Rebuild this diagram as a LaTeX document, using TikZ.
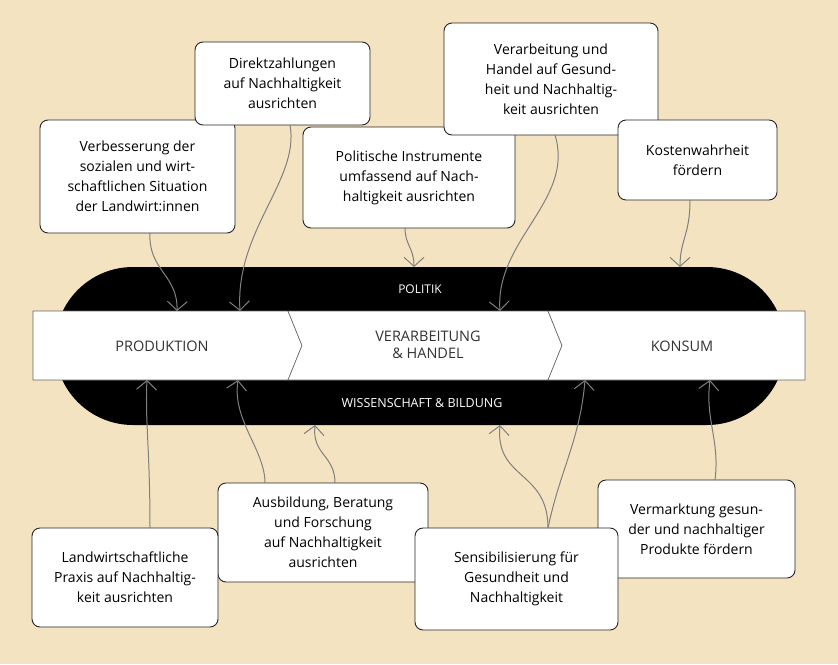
\documentclass[tikz,border=0pt]{standalone}
\usepackage{fontspec}
\setmainfont{Open Sans}
\usetikzlibrary{arrows.meta}
\definecolor{bg}{HTML}{F3E3C0}
\begin{document}
\begin{tikzpicture}[x=1pt,y=-1pt,
  box/.style={draw=black!85,fill=white,rounded corners=8pt,line width=0.9pt,align=center,font=\fontsize{14}{20}\selectfont,inner sep=0pt},
  conn/.style={draw=black!50,line width=1pt,-{Straight Barb[length=9pt,width=20pt]}},
  lbl/.style={font=\fontsize{14.5}{17}\selectfont}]
\fill[bg] (0,0) rectangle (838,664);
\useasboundingbox (0,0) rectangle (838,664);
\fill[black,rounded corners=78pt] (55,267) rectangle (785,425);
\fill[white,draw=black!60,line width=0.6pt] (33,311) -- (288,311) -- (302,345.5) -- (288,380) -- (33,380) -- cycle;
\fill[white,draw=black!60,line width=0.6pt] (288,311) -- (548,311) -- (562,345.5) -- (548,380) -- (288,380) -- (302,345.5) -- cycle;
\fill[white,draw=black!60,line width=0.6pt] (548,311) -- (805,311) -- (805,380) -- (548,380) -- (562,345.5) -- cycle;
\node[text=white,font=\fontsize{12}{14}\selectfont] (pol) at (420,289) {POLITIK};
\node[text=white,font=\fontsize{12.5}{14}\selectfont] (wis) at (422,403) {WISSENSCHAFT \& BILDUNG};
\node[lbl,text=black!80] (prod) at (162,346) {PRODUKTION};
\node[lbl,text=black!80,align=center] (verh) at (428,345) {VERARBEITUNG\\\& HANDEL};
\node[lbl,text=black!80] (kons) at (682,346) {KONSUM};
% boxes
\node[box,minimum width=195pt,minimum height=113pt] (b1) at (137.5,176.5) {Verbesserung der\\sozialen und wirt-\\schaftlichen Situation\\der Landwirt:innen};
\node[box,minimum width=175pt,minimum height=83pt] (b2) at (282.5,83.5) {Direktzahlungen\\auf Nachhaltigkeit\\ausrichten};
\node[box,minimum width=212pt,minimum height=101pt] (b3) at (409,177.5) {Politische Instrumente\\umfassend auf Nach-\\haltigkeit ausrichten};
\node[box,minimum width=214pt,minimum height=112pt] (b4) at (551,79) {Verarbeitung und\\Handel auf Gesund-\\heit und Nachhaltig-\\keit ausrichten};
\node[box,minimum width=159pt,minimum height=80pt] (b5) at (697.5,160) {Kostenwahrheit\\fördern};
\node[box,minimum width=210pt,minimum height=99pt] (b7) at (323,532.5) {Ausbildung, Beratung\\und Forschung\\auf Nachhaltigkeit\\ausrichten};
\node[box,minimum width=186pt,minimum height=99pt] (b6) at (125,577.5) {Landwirtschaftliche\\Praxis auf Nachhaltig-\\keit ausrichten};
\node[box,minimum width=197pt,minimum height=98pt] (b9) at (696.5,529) {Vermarktung gesun-\\der und nachhaltiger\\Produkte fördern};
\node[box,minimum width=203pt,minimum height=102pt] (b8) at (516.5,579) {Sensibilisierung für\\Gesundheit und\\Nachhaltigkeit};
% anchor coordinates
\coordinate (t1) at (177,311); \coordinate (t2) at (240,311); \coordinate (t3) at (414,267);
\coordinate (t4) at (500,311); \coordinate (t5) at (680,267);
\coordinate (u6) at (147,380); \coordinate (u7a) at (238,380); \coordinate (u7b) at (315,425);
\coordinate (u8a) at (500,425); \coordinate (u8b) at (585,380); \coordinate (u9) at (710,380);
\draw[conn] (150,233) .. controls (148,270) and (178,275) .. (t1);
\draw[conn] (290,125) .. controls (300,180) and (235,230) .. (t2);
\draw[conn] (405,228) .. controls (405,245) and (414,248) .. (t3);
\draw[conn] (555,135) .. controls (575,200) and (495,240) .. (t4);
\draw[conn] (690,200) .. controls (690,235) and (680,240) .. (t5);
\draw[conn] (150,528) .. controls (150,450) and (145,420) .. (u6);
\draw[conn] (265,483) .. controls (265,450) and (232,420) .. (u7a);
\draw[conn] (335,483) .. controls (335,455) and (312,455) .. (u7b);
\draw[conn] (548,528) .. controls (548,470) and (495,480) .. (u8a);
\draw[conn] (548,528) .. controls (560,470) and (580,440) .. (u8b);
\draw[conn] (715,480) .. controls (720,440) and (705,420) .. (u9);
\end{tikzpicture}
\end{document}
